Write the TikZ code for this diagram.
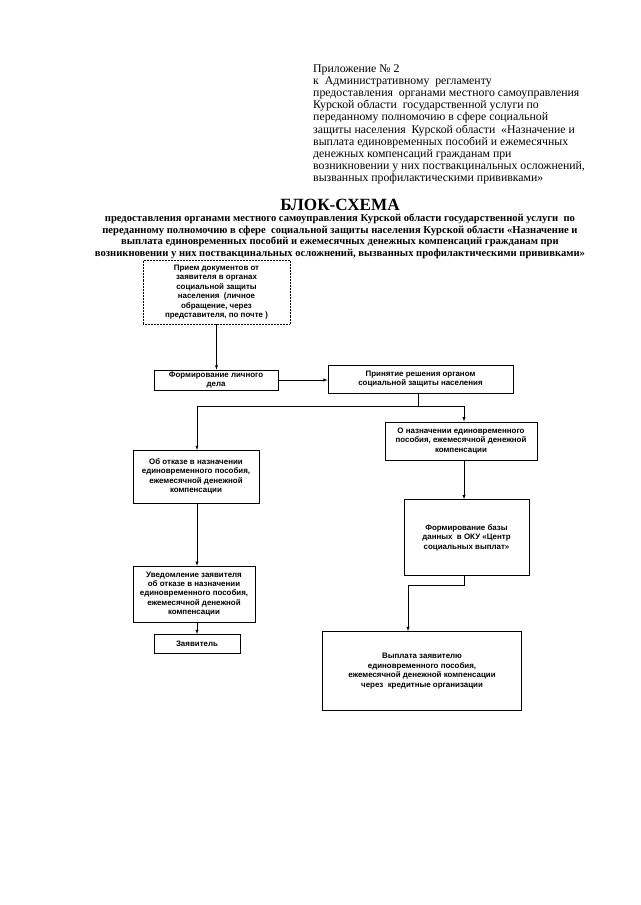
\documentclass[tikz,border=0pt]{standalone}
\usepackage{fontspec}
\setmainfont{Liberation Serif}
\setsansfont{Liberation Sans}
\usetikzlibrary{calc}

\begin{document}
\begin{tikzpicture}[x=0.0328cm,y=-0.0328cm,thin,
  blok/.style={draw,align=center,inner sep=1pt,
    font=\sffamily\bfseries\fontsize{7.4}{8.8}\selectfont},
  strelka/.style={-latex}]
\useasboundingbox (0,0) rectangle (640,905);
% shapka
\node[anchor=north west,align=left,inner sep=0pt,
  font=\fontsize{11}{11.4}\selectfont] (shapka) at (313,64)
  {Приложение № 2\\
   к\ \ Административному\ \ регламенту\\
   предоставления\ \ органами местного самоуправления\\
   Курской области\ \ государственной услуги по\\
   переданному полномочию в сфере социальной\\
   защиты населения\ \ Курской области\ \ «Назначение и\\
   выплата единовременных пособий и ежемесячных\\
   денежных компенсаций гражданам при\\
   возникновении у них поствакцинальных осложнений,\\
   вызванных профилактическими прививками»};
\node[font=\bfseries\fontsize{16}{16}\selectfont,inner sep=0pt] (zagl) at (340,205) {БЛОК-СХЕМА};
\node[align=center,inner sep=0pt,font=\bfseries\fontsize{9.9}{10.8}\selectfont] (podzagl) at (340,236.5)
  {предоставления органами местного самоуправления Курской области государственной услуги\ \ по\\
   переданному полномочию в сфере\ \ социальной защиты населения Курской области «Назначение и\\
   выплата единовременных пособий и ежемесячных денежных компенсаций гражданам при\\
   возникновении у них поствакцинальных осложнений, вызванных профилактическими прививками»};
% bloki
\node[blok,densely dotted,minimum width=137,minimum height=60] (b1) at (216.5,292)
  {Прием документов от\\заявителя в органах\\социальной защиты\\населения\ \ (личное\\обращение, через\\представителя, по почте )};
\node[blok,minimum width=116,minimum height=19] (b2) at (216,380) {Формирование личного\\дела};
\node[blok,minimum width=173,minimum height=26] (b3) at (420.5,379) {Принятие решения органом\\социальной защиты населения};
\node[blok,minimum width=142,minimum height=36] (b4) at (461,441) {О назначении единовременного\\пособия, ежемесячной денежной\\компенсации};
\node[blok,minimum width=118,minimum height=49] (b5) at (196,476.5) {Об отказе в назначении\\единовременного пособия,\\ежемесячной денежной\\компенсации};
\node[blok,minimum width=117,minimum height=71] (b6) at (466.5,537.5) {Формирование базы\\данных\ \ в ОКУ «Центр\\социальных выплат»};
\node[blok,minimum width=114,minimum height=52] (b7) at (194,594) {Уведомление заявителя\\об отказе в назначении\\единовременного пособия,\\ежемесячной денежной\\компенсации};
\node[blok,minimum width=80,minimum height=18] (b8) at (197,644) {Заявитель};
\node[blok,minimum width=186,minimum height=74] (b9) at (422,671) {Выплата заявителю\\единовременного пособия,\\ежемесячной денежной компенсации\\через\ \ кредитные организации};
% strelki
\coordinate (razv) at (418,406);
\coordinate (levo) at (197,406);
\coordinate (pravo) at (464,406);
\coordinate (povorot) at (408,585);
\draw[strelka] (b1.south) -- (b1.south |- b2.north);
\draw[strelka] (b2.east) -- (b2.east -| b3.west);
\draw (b3.south -| razv) -- (razv);
\draw[strelka] (levo) -- (pravo) -- (pravo |- b4.north);
\draw[strelka] (levo) -- (levo |- b5.north);
\draw[strelka] (pravo |- b4.south) -- (pravo |- b6.north);
\draw[strelka] (levo |- b5.south) -- (levo |- b7.north);
\draw[strelka] (levo |- b7.south) -- (levo |- b8.north);
\draw[strelka] (pravo |- b6.south) |- (povorot) -- (povorot |- b9.north);
\end{tikzpicture}
\end{document}
